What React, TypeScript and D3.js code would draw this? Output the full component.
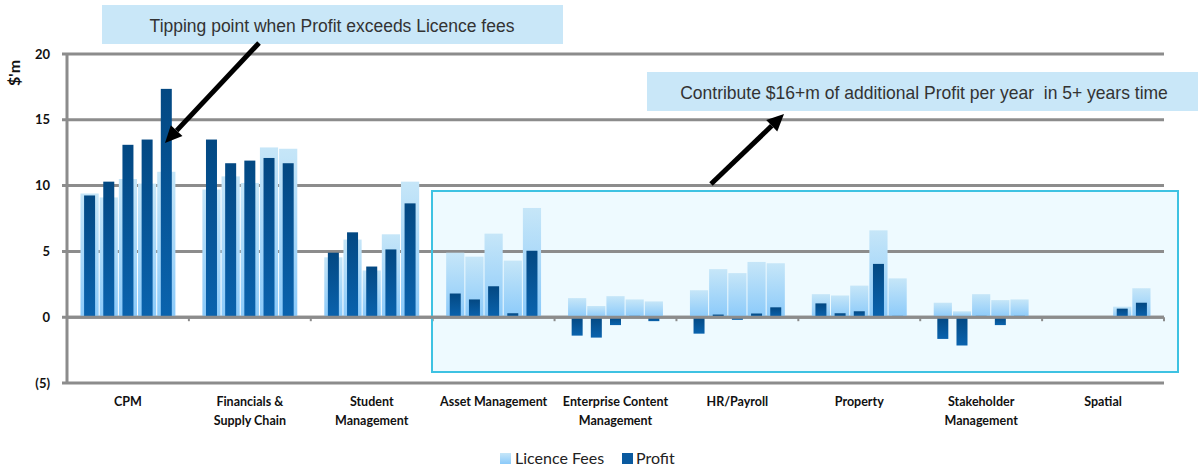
import React, { useLayoutEffect, useRef, useState } from "react";
import * as d3 from "d3";

const categories = [
  ["CPM"],
  ["Financials &", "Supply Chain"],
  ["Student", "Management"],
  ["Asset Management"],
  ["Enterprise Content", "Management"],
  ["HR/Payroll"],
  ["Property"],
  ["Stakeholder", "Management"],
  ["Spatial"],
];
const years = ["Y1", "Y2", "Y3", "Y4", "Y5"];

const licenceFees = [
  [9.4, 9.1, 10.5, 10.15, 11.05],
  [9.7, 10.7, 10.2, 12.9, 12.8],
  [4.55, 5.9, 3.55, 6.3, 10.3],
  [4.9, 4.6, 6.35, 4.3, 8.3],
  [1.45, 0.85, 1.6, 1.35, 1.2],
  [2.05, 3.65, 3.35, 4.2, 4.1],
  [1.75, 1.65, 2.4, 6.6, 2.95],
  [1.1, 0.45, 1.75, 1.3, 1.35],
  [0, 0, 0, 0.8, 2.2],
];
const profit = [
  [9.25, 10.3, 13.1, 13.5, 17.35],
  [13.5, 11.7, 11.9, 12.1, 11.7],
  [4.9, 6.45, 3.85, 5.15, 8.65],
  [1.8, 1.35, 2.35, 0.3, 5.05],
  [-1.4, -1.55, -0.6, 0.1, -0.3],
  [-1.25, 0.2, -0.2, 0.28, 0.75],
  [1.05, 0.3, 0.45, 4.05, 0.1],
  [-1.65, -2.15, 0.1, -0.6, 0.1],
  [0, 0, 0, 0.65, 1.1],
];
const yTicks = [-5, 0, 5, 10, 15, 20];
const yTickLabels = ["(5)", "0", "5", "10", "15", "20"];
const seriesNames = ["Licence Fees", "Profit"];
const note1 = "Tipping point when Profit exceeds Licence fees";
const note2 = "Contribute $16+m of additional Profit per year  in 5+ years time";

const W = 1199;
const H = 470;

function Arrow({ x1, y1, x2, y2 }: { x1: number; y1: number; x2: number; y2: number }) {
  const ang = Math.atan2(y2 - y1, x2 - x1);
  const len = 17;
  const half = 8;
  const bx = x2 - len * Math.cos(ang);
  const by = y2 - len * Math.sin(ang);
  const px = -Math.sin(ang) * half;
  const py = Math.cos(ang) * half;
  return (
    <g>
      <line x1={x1} y1={y1} x2={bx} y2={by} stroke="#000" strokeWidth={5} />
      <polygon points={`${x2},${y2} ${bx + px},${by + py} ${bx - px},${by - py}`} fill="#000" />
    </g>
  );
}

function FitText({ cx, y, width, text }: { cx: number; y: number; width: number; text: string }) {
  const ref = useRef<SVGTextElement>(null);
  const [s, setS] = useState(1);
  useLayoutEffect(() => {
    if (ref.current) {
      const w = ref.current.getComputedTextLength();
      if (w > 0) setS(width / w);
    }
  }, [text, width]);
  return (
    <text
      ref={ref}
      transform={`translate(${cx},${y}) scale(${s},1)`}
      textAnchor="middle"
      fontFamily="'Liberation Sans', Arial, sans-serif"
      fontSize={19}
      fill="#333"
      style={{ whiteSpace: "pre" }}
    >
      {text}
    </text>
  );
}

export default function App() {
  const x = d3.scaleBand<number>().domain(d3.range(categories.length)).range([67, 1164]).paddingInner(0);
  const bw = x.bandwidth();
  const xi = d3.scaleBand<string>().domain(years).range([13, bw - 13]).paddingInner(0);
  const y = d3.scaleLinear().domain([-5, 20]).range([383, 54]);
  const slot = xi.bandwidth();
  const darkW = 11;
  const gridColor = "#8c8c8c";
  const labelFont = "Lato, 'Open Sans', sans-serif";

  return (
    <svg width={W} height={H} style={{ position: "absolute", left: 0, top: 0, background: "#fff" }}>
      <defs>
        <linearGradient id="gLight" x1="0" y1="0" x2="0" y2="1">
          <stop offset="0" stopColor="#c6e6f8" />
          <stop offset="1" stopColor="#8bcafa" />
        </linearGradient>
        <linearGradient id="gDark" x1="0" y1="0" x2="0" y2="1">
          <stop offset="0" stopColor="#034882" />
          <stop offset="1" stopColor="#0a63ae" />
        </linearGradient>
      </defs>

      {/* highlight box fill */}
      <rect x={432} y={191} width={746} height={181} fill="#eefaff" />

      {/* gridlines */}
      {yTicks.map((t) => (
        <g key={t}>
          <line x1={62} x2={1164} y1={y(t)} y2={y(t)} stroke={gridColor} strokeWidth={3} />
        </g>
      ))}
      <line x1={67} x2={67} y1={y(20)} y2={y(-5)} stroke={gridColor} strokeWidth={3} />
      {d3.range(categories.length + 1).map((i) => {
        const xx = i < categories.length ? (x(i) as number) : 1164;
        return <line key={i} x1={xx} x2={xx} y1={y(0)} y2={y(0) + 4} stroke={gridColor} strokeWidth={2} />;
      })}

      {/* highlight box border */}
      <rect x={432} y={191} width={746} height={181} fill="none" stroke="#3ec2e2" strokeWidth={2} />

      {/* bars */}
      {categories.map((_, ci) => (
        <g key={ci} transform={`translate(${x(ci)},0)`}>
          {years.map((yr, yi) => {
            const v = licenceFees[ci][yi];
            if (v === 0) return null;
            const top = y(Math.max(v, 0));
            const h = Math.abs(y(v) - y(0));
            return <rect key={"l" + yr} x={(xi(yr) as number) + 0.5} y={top} width={slot - 1} height={h} fill="url(#gLight)" />;
          })}
          {years.map((yr, yi) => {
            const v = profit[ci][yi];
            if (v === 0) return null;
            const top = y(Math.max(v, 0));
            const h = Math.abs(y(v) - y(0));
            return (
              <rect
                key={"p" + yr}
                x={(xi(yr) as number) + (slot - darkW) / 2}
                y={top}
                width={darkW}
                height={h}
                fill="url(#gDark)"
              />
            );
          })}
        </g>
      ))}

      {/* zero line over bars */}
      <line x1={67} x2={1164} y1={y(0)} y2={y(0)} stroke={gridColor} strokeWidth={3} />

      {/* y tick labels */}
      {yTicks.map((t, i) => (
        <text key={t} x={50} y={y(t)} dy="0.35em" textAnchor="end" fontFamily={labelFont} fontWeight="bold" fontSize={13} fill="#111">
          {yTickLabels[i]}
        </text>
      ))}
      <text
        transform="translate(20,73) rotate(-90)"
        textAnchor="middle"
        fontFamily={labelFont}
        fontWeight="bold"
        fontSize={16}
        fill="#111"
      >
        $'m
      </text>

      {/* category labels */}
      {categories.map((lines, ci) => (
        <text key={ci} x={(x(ci) as number) + bw / 2} textAnchor="middle" fontFamily={labelFont} fontWeight="bold" fontSize={12.5} fill="#111">
          {lines.map((ln, li) => (
            <tspan key={li} x={(x(ci) as number) + bw / 2} y={406 + li * 19}>
              {ln}
            </tspan>
          ))}
        </text>
      ))}

      {/* legend */}
      <rect x={500} y={453} width={11} height={11} fill="url(#gLight)" />
      <text x={515} y={464} fontFamily={labelFont} fontSize={16} fill="#222">{seriesNames[0]}</text>
      <rect x={622} y={453} width={11} height={11} fill="#0a5a9f" />
      <text x={636} y={464} fontFamily={labelFont} fontSize={16} fill="#222">{seriesNames[1]}</text>

      {/* annotations */}
      <rect x={102} y={5} width={461} height={39} fill="#c9e7f8" />
      <FitText cx={332} y={32} width={365} text={note1} />
      <Arrow x1={259} y1={43} x2={165} y2={143} />

      <rect x={647} y={72} width={551} height={39} fill="#c9e7f8" />
      <FitText cx={924} y={99} width={488} text={note2} />
      <Arrow x1={711} y1={184} x2={784} y2={114} />
    </svg>
  );
}
